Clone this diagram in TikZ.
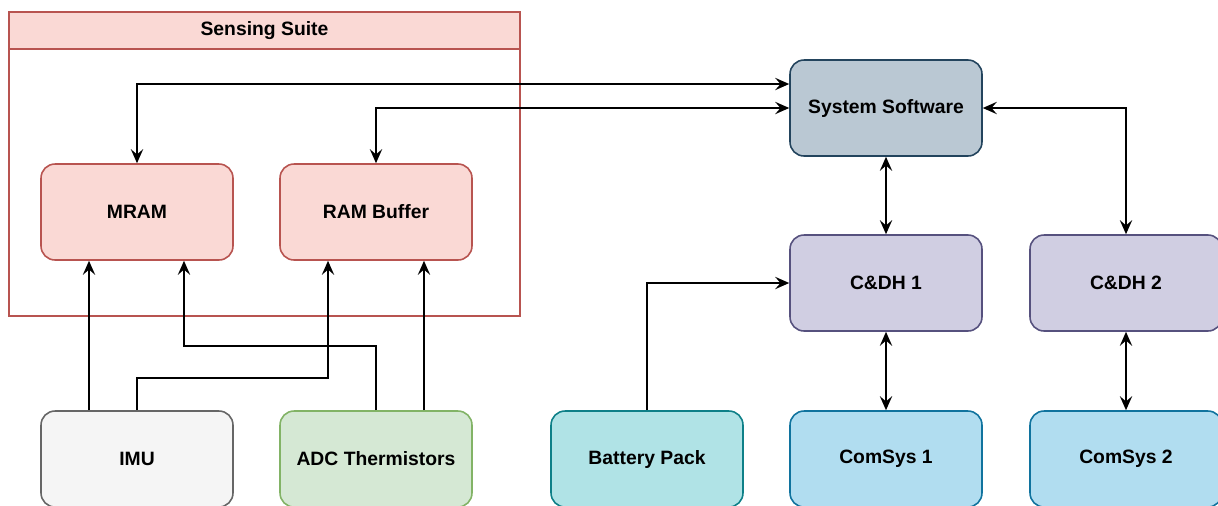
\documentclass[tikz,border=0pt]{standalone}
\usepackage{fontspec}
\setmainfont{Liberation Sans}
\usepackage{xcolor}
\usepackage{tikz}
\usetikzlibrary{calc, positioning, arrows.meta}
\definecolor{redFill}{HTML}{FAD9D5}
\definecolor{redLine}{HTML}{B85450}
\definecolor{greyFill}{HTML}{F5F5F5}
\definecolor{greyLine}{HTML}{666666}
\definecolor{greenFill}{HTML}{D5E8D4}
\definecolor{greenLine}{HTML}{82B366}
\definecolor{swFill}{HTML}{BAC8D3}
\definecolor{swLine}{HTML}{23445D}
\definecolor{purpFill}{HTML}{D0CEE2}
\definecolor{purpLine}{HTML}{56517E}
\definecolor{tealFill}{HTML}{B0E3E6}
\definecolor{tealLine}{HTML}{0E8088}
\definecolor{blueFill}{HTML}{B1DDF0}
\definecolor{blueLine}{HTML}{10739E}
\tikzset{
    unit/.style={rectangle, rounded corners=0.28cm, line width=0.9pt, minimum width=3.84cm, minimum height=1.92cm, align=center, font=\fontsize{11}{13}\selectfont\bfseries},
    memory/.style={unit, draw=redLine, fill=redFill},
    sensor/.style={unit, draw=greyLine, fill=greyFill},
    adcbox/.style={unit, draw=greenLine, fill=greenFill},
    software/.style={unit, draw=swLine, fill=swFill},
    cdh/.style={unit, draw=purpLine, fill=purpFill},
    power/.style={unit, draw=tealLine, fill=tealFill},
    comms/.style={unit, draw=blueLine, fill=blueFill},
    arrow/.style={-{Stealth[length=8pt, width=7pt, inset=3pt]}, line width=1.1pt},
    dblarrow/.style={{Stealth[length=8pt, width=7pt, inset=3pt]}-{Stealth[length=8pt, width=7pt, inset=3pt]}, line width=1.1pt}
}

\begin{document}
\begin{tikzpicture}[x=0.02cm, y=-0.02cm]
    \clip (0,0) rectangle (1218,505);

    % Sensing suite container
    \draw[redLine, line width=0.9pt, fill=white] (9,12) rectangle (520,316);
    \draw[redLine, line width=0.9pt, fill=redFill] (9,12) rectangle (520,49);
    \node[font=\fontsize{11}{13}\selectfont\bfseries] (suite) at (264.5,30.5) {Sensing Suite};

    % Sensing suite blocks
    \node[memory] (mram) at (137,212) {MRAM};
    \node[memory] (ram) at (376,212) {RAM Buffer};

    % Sensors
    \node[sensor] (imu) at (137,459) {IMU};
    \node[adcbox] (adc) at (376,459) {ADC Thermistors};

    % Bus side
    \node[software] (sw) at (886,108) {System Software};
    \node[cdh] (cdh1) at (886,283) {C\&DH 1};
    \node[cdh] (cdh2) at (1126,283) {C\&DH 2};
    \node[power] (bat) at (647,459) {Battery Pack};
    \node[comms] (com1) at (886,459) {ComSys 1};
    \node[comms] (com2) at (1126,459) {ComSys 2};

    % Software links
    \draw[dblarrow] ([yshift=0.48cm]sw.west) -| (mram.north);
    \draw[dblarrow] (sw.west) -| (ram.north);
    \draw[dblarrow] (sw.east) -| (cdh2.north);
    \draw[dblarrow] (sw.south) -- (cdh1.north);
    \draw[dblarrow] (cdh1.south) -- (com1.north);
    \draw[dblarrow] (cdh2.south) -- (com2.north);

    % Power
    \draw[arrow] (bat.north) |- (cdh1.west);

    % Sensor data
    \draw[arrow] ([xshift=-0.96cm]imu.north) -- ([xshift=-0.96cm]mram.south);
    \draw[arrow] (imu.north) -- ++(0,0.64cm) -| ([xshift=-0.96cm]ram.south);
    \draw[arrow] (adc.north) -- ++(0,1.28cm) -| ([xshift=0.94cm]mram.south);
    \draw[arrow] ([xshift=0.96cm]adc.north) -- ([xshift=0.96cm]ram.south);

\end{tikzpicture}
\end{document}
